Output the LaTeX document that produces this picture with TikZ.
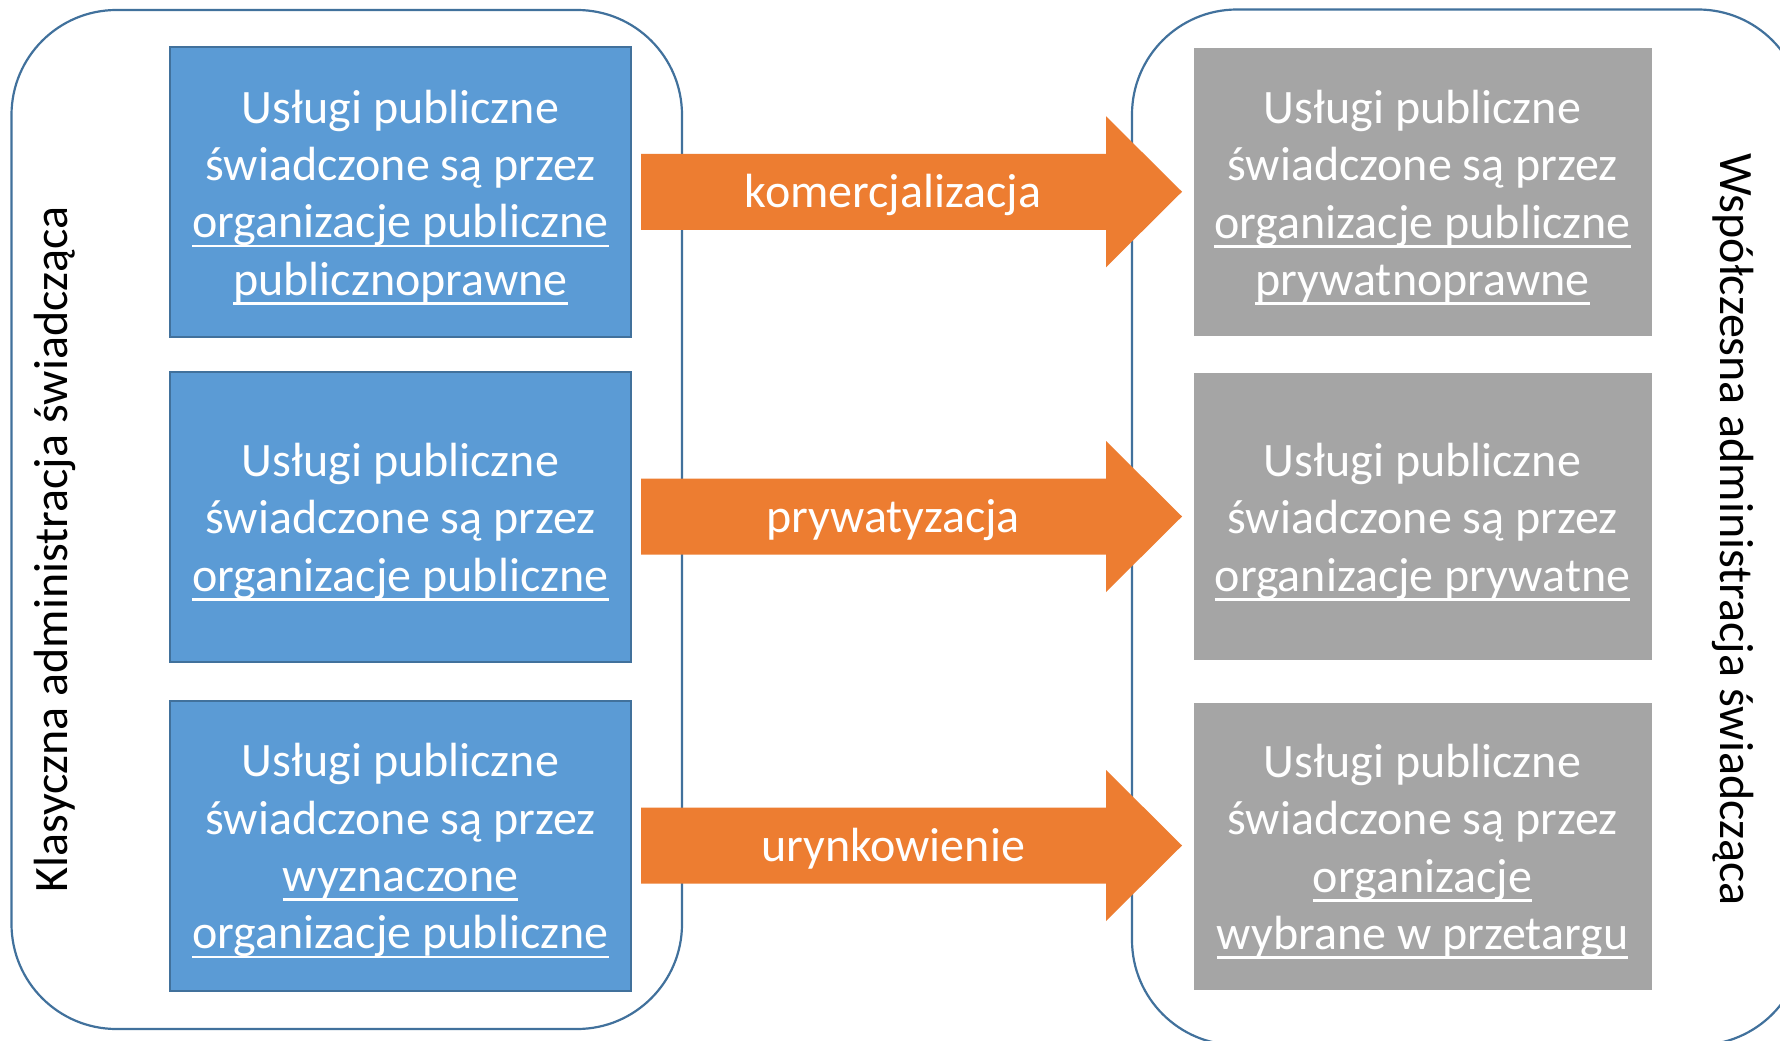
\documentclass[tikz,border=0pt]{standalone}
\usepackage{fontspec}
\setmainfont{Carlito}
\usetikzlibrary{calc}
\definecolor{bluefill}{HTML}{5B9BD5}
\definecolor{blueline}{HTML}{41719C}
\definecolor{frameline}{HTML}{41719C}
\definecolor{greyfill}{HTML}{A5A5A5}
\definecolor{orangefill}{HTML}{ED7D31}
\newcommand\ulx[1]{\leavevmode\setbox0\hbox{#1}\rlap{\rule[-0.2em]{\wd0}{0.055em}}\box0}
\newcommand\bigfont{\fontsize{48}{57.3}\selectfont}
\tikzset{
  panel/.style={draw=frameline, line width=2.2pt, rounded corners=105pt, inner sep=0pt, outer sep=0pt},
  bluebox/.style={draw=blueline, line width=2pt, fill=bluefill,
    minimum width=461pt, minimum height=290pt, inner sep=0pt, outer sep=0pt},
  greybox/.style={draw=greyfill, line width=1pt, fill=greyfill,
    minimum width=457pt, minimum height=286pt, inner sep=0pt, outer sep=0pt},
  boxtext/.style={text=white, align=center, inner sep=0pt, font=\bigfont},
  flow/.style={fill=orangefill},
  flowlabel/.style={text=white, font=\bigfont, inner sep=0pt},
  sidelabel/.style={text=black, font=\bigfont, inner sep=0pt}
}
\newcommand\flowarrow[4]{%
  \fill[flow] ($(#1.east)+(10,-38)$) -- ($(#2.west |- #1.east)+(-88,-38)$)
    -- ($(#2.west |- #1.east)+(-88,-75.5)$) -- ($(#2.west |- #1.east)+(-12,0)$)
    -- ($(#2.west |- #1.east)+(-88,75.5)$) -- ($(#2.west |- #1.east)+(-88,38)$)
    -- ($(#1.east)+(10,38)$) -- cycle;
  \node[flowlabel, anchor=base] (#4) at ($(#1.east)+(262,16)$) {#3};
}
\begin{document}
\begin{tikzpicture}[x=1pt, y=-1pt]
\useasboundingbox (0,0) rectangle (1780,1041);
\fill[white] (0,0) rectangle (1780,1041);
\clip (0,0) rectangle (1780,1041);

% panels
\node[panel, minimum width=670.5pt, minimum height=1019pt] (leftpanel) at (346.75,519.5) {};
\node[panel, minimum width=671pt, minimum height=1035.5pt] (rightpanel) at (1467.5,527.25) {};

% side labels
\node[sidelabel, rotate=90, anchor=base] (lefttitle) at (67,549.5) {Klasyczna administracja świadcząca};
\node[sidelabel, rotate=-90, anchor=base] (righttitle) at (1720,529.6) {Współczesna administracja świadcząca};

% blue boxes
\node[bluebox] (b1) at (400.5,191.75) {};
\node[bluebox] (b2) at (400.5,516.5) {};
\node[bluebox] (b3) at (400.5,845.5) {};
\node[boxtext] (tb1) at ($(b1.center)+(0,5.5)$) {Usługi publiczne\\świadczone są przez\\\ulx{organizacje publiczne}\\\ulx{publicznoprawne}};
\node[boxtext] (tb2) at ($(b2.center)+(0,5.5)$) {Usługi publiczne\\świadczone są przez\\\ulx{organizacje publiczne}};
\node[boxtext] (tb3) at ($(b3.center)+(0,5.5)$) {Usługi publiczne\\świadczone są przez\\\ulx{wyznaczone}\\\ulx{organizacje publiczne}};

% grey boxes
\node[greybox] (g1) at (1422.5,192) {};
\node[greybox] (g2) at (1422.5,516.5) {};
\node[greybox] (g3) at (1422.5,846) {};
\node[boxtext] (tg1) at ($(g1.center)+(0,5.5)$) {Usługi publiczne\\świadczone są przez\\\ulx{organizacje publiczne}\\\ulx{prywatnoprawne}};
\node[boxtext] (tg2) at ($(g2.center)+(0,5.5)$) {Usługi publiczne\\świadczone są przez\\\ulx{organizacje prywatne}};
\node[boxtext] (tg3) at ($(g3.center)+(0,5.5)$) {Usługi publiczne\\świadczone są przez\\\ulx{organizacje}\\\ulx{wybrane w przetargu}};

% arrows
\flowarrow{b1}{g1}{komercjalizacja}{l1}
\flowarrow{b2}{g2}{prywatyzacja}{l2}
\flowarrow{b3}{g3}{urynkowienie}{l3}
\end{tikzpicture}
\end{document}
